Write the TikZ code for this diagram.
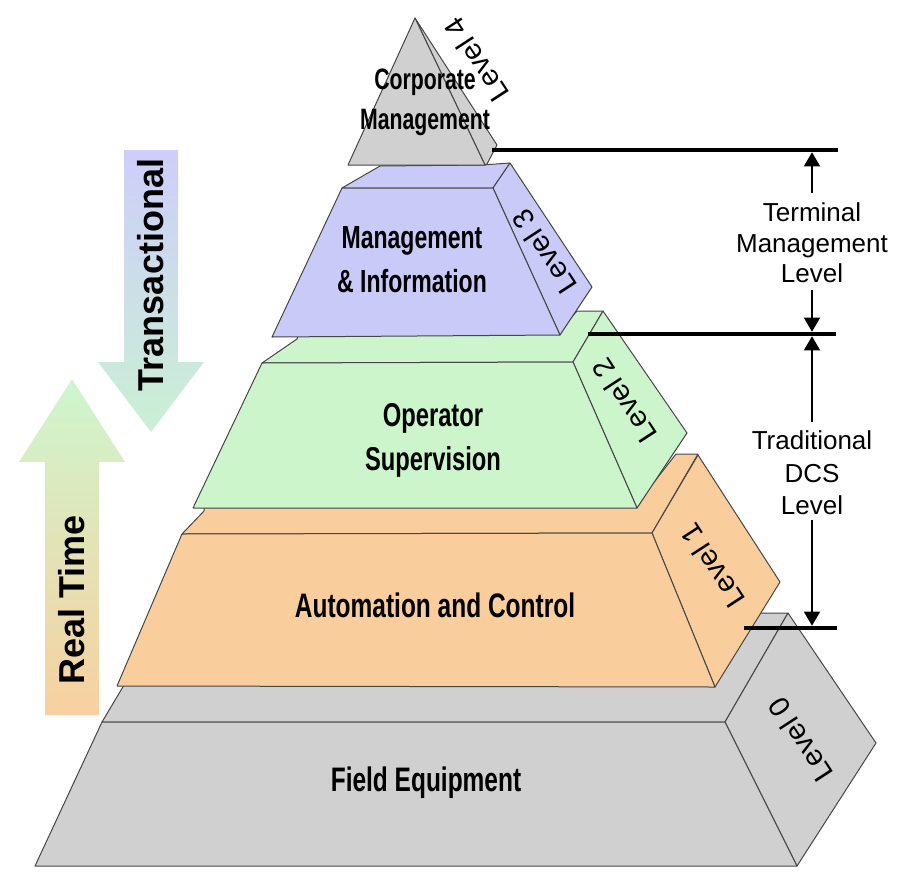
\documentclass[tikz,border=0pt]{standalone}
\usepackage{fontspec}
\setmainfont{Liberation Sans}
\newfontfamily\condfont[FakeStretch=0.72]{Liberation Sans}
\usetikzlibrary{arrows.meta}
\definecolor{gryF}{RGB}{208,208,208}
\definecolor{orgF}{RGB}{250,206,156}
\definecolor{grnF}{RGB}{204,245,204}
\definecolor{prpF}{RGB}{202,202,248}
\definecolor{edgeC}{RGB}{70,70,70}
\definecolor{trTop}{RGB}{206,206,250}
\definecolor{trMid}{RGB}{202,238,220}
\definecolor{trBot}{RGB}{202,240,212}
\definecolor{rtTop}{RGB}{206,246,206}
\definecolor{rtMid}{RGB}{226,236,186}
\definecolor{rtBot}{RGB}{248,208,160}
\tikzset{
  face/.style={draw=edgeC, line width=1pt, line join=round},
  lbl/.style={font=\condfont\bfseries\fontsize{32}{44}\selectfont, align=center, inner sep=0pt},
  lvl/.style={font=\fontsize{29}{30}\selectfont, rotate=123, inner sep=0pt},
  dimtext/.style={font=\fontsize{26}{30.5}\selectfont, align=center, inner sep=0pt},
  bar/.style={line width=4.5pt},
  dimarrow/.style={line width=1.4pt, -{Triangle[width=16pt,length=14pt]}},
  bigtext/.style={font=\bfseries\fontsize{36}{40}\selectfont, rotate=90, inner sep=0pt},
}
\begin{document}
\begin{tikzpicture}[x=1pt,y=-1pt]
\useasboundingbox (0,0) rectangle (900,871);
% ---------- side arrows ----------
\shade[top color=trTop, middle color=trMid, bottom color=trBot]
  (124,150) -- (178,150) -- (178,362) -- (204,362) -- (151,432) -- (98,362) -- (124,362) -- cycle;
\shade[top color=rtTop, middle color=rtMid, bottom color=rtBot]
  (45,715) -- (99,715) -- (99,462) -- (125,462) -- (72,379) -- (19,462) -- (45,462) -- cycle;
\node[bigtext] (trans) at (151,275) {Transactional};
\node[bigtext] (realt) at (72,600) {Real Time};
% ---------- Level 0 ----------
\filldraw[face, fill=gryF] (102,722) -- (725,722) -- (788,613) -- (762,613) -- (700,613) -- (130,675) -- cycle;
\filldraw[face, fill=gryF] (725,722) -- (788,613) -- (876,743) -- (797,866) -- cycle;
\filldraw[face, fill=gryF] (35,866) -- (797,866) -- (725,722) -- (102,722) -- cycle;
% ---------- Level 1 ----------
\filldraw[face, fill=orgF] (182,534) -- (652,533) -- (698,454) -- (676,454) -- (640,500) -- (205,500) -- (204,511) -- cycle;
\filldraw[face, fill=orgF] (652,533) -- (698,455) -- (780,582) -- (715,687) -- cycle;
\filldraw[face, fill=orgF] (117,686) -- (715,687) -- (652,533) -- (182,534) -- cycle;
% ---------- Level 2 ----------
\filldraw[face, fill=grnF] (262,363) -- (573,362) -- (603,311) -- (577,311) -- (560,330) -- (300,330) -- (297,339) -- cycle;
\filldraw[face, fill=grnF] (573,362) -- (603,311) -- (687,433) -- (637,508) -- cycle;
\filldraw[face, fill=grnF] (193,508) -- (637,508) -- (573,362) -- (262,363) -- cycle;
% ---------- Level 3 ----------
\filldraw[face, fill=prpF] (342,188) -- (493,188) -- (510,163) -- (482,165) -- (380,166) -- cycle;
\filldraw[face, fill=prpF] (493,188) -- (510,163) -- (592,287) -- (560,335) -- cycle;
\filldraw[face, fill=prpF] (272,337) -- (560,335) -- (493,188) -- (342,188) -- cycle;
% ---------- Level 4 ----------
\filldraw[face, fill=gryF] (415,18) -- (497,145) -- (487,164) -- (485,165) -- cycle;
\filldraw[face, fill=gryF] (415,18) -- (348,165) -- (485,165) -- cycle;
% ---------- labels ----------
\node[lbl, font=\condfont\bfseries\fontsize{29.5}{40}\selectfont] (corp) at (425,102) {Corporate\\Management};
\node[lbl] (mgmt) at (412,260) {Management\\\& Information};
\node[lbl, font=\condfont\bfseries\fontsize{33}{44}\selectfont] (oper) at (433,440) {Operator\\Supervision};
\node[lbl, font=\condfont\bfseries\fontsize{34}{44}\selectfont] (auto) at (435,605) {Automation and Control};
\node[lbl, font=\condfont\bfseries\fontsize{34}{44}\selectfont] (field) at (426,783) {Field Equipment};
\node[lvl] (lv4) at (476,60) {Level 4};
\node[lvl] (lv3) at (544,252) {Level 3};
\node[lvl] (lv2) at (624,401) {Level 2};
\node[lvl] (lv1) at (712,566) {Level 1};
\node[lvl] (lv0) at (800,740) {Level 0};
% ---------- right annotations ----------
\coordinate (b1a) at (492,150); \coordinate (b1b) at (838,150);
\coordinate (b2a) at (588,334); \coordinate (b2b) at (836,334);
\coordinate (b3a) at (744,628); \coordinate (b3b) at (837,628);
\draw[bar] (b1a) -- (b1b);
\draw[bar] (b2a) -- (b2b);
\draw[bar] (b3a) -- (b3b);
\node[dimtext] (tml) at (812,243) {Terminal\\Management\\Level};
\node[dimtext, font=\fontsize{26}{32.5}\selectfont] (tdl) at (812,473) {Traditional\\DCS\\Level};
\coordinate (a1s) at (812,193); \coordinate (a1e) at (812,152.3);
\coordinate (a2s) at (812,290); \coordinate (a2e) at (812,331.7);
\coordinate (a3s) at (812,422); \coordinate (a3e) at (812,336.3);
\coordinate (a4s) at (812,520); \coordinate (a4e) at (812,625.7);
\draw[dimarrow] (a1s) -- (a1e);
\draw[dimarrow] (a2s) -- (a2e);
\draw[dimarrow] (a3s) -- (a3e);
\draw[dimarrow] (a4s) -- (a4e);
\end{tikzpicture}
\end{document}
